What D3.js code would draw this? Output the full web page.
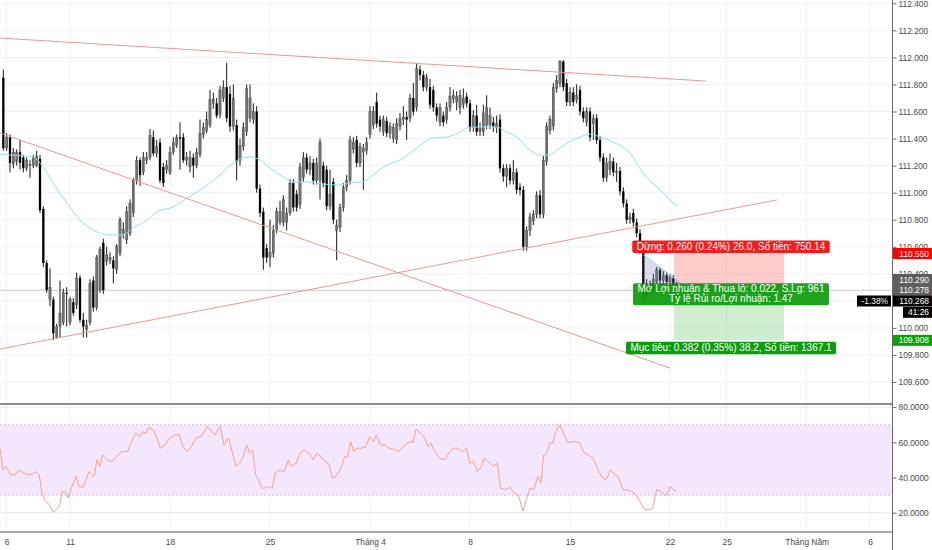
<!DOCTYPE html>
<html>
<head>
<meta charset="utf-8">
<script src="https://cdn.jsdelivr.net/npm/d3@7"></script>
<style>
body { margin: 0; background: #fff; }
svg { display: block; font-family: "Liberation Sans", Arial, sans-serif; }
</style>
</head>
<body>
<svg id="chart" width="932" height="550"></svg>
<script>
// 4h candles, bar 0 = Mon 11 March. first bar is -20
var firstBar = -20;
var ohlc = [
[111.85,111.91,111.31,111.33],[111.33,111.44,111.31,111.41],[111.41,111.43,111.15,111.22],[111.21,111.33,111.18,111.30],
[111.23,111.32,111.20,111.30],[111.30,111.39,111.17,111.22],[111.26,111.28,111.15,111.18],[111.18,111.26,111.16,111.24],
[111.20,111.24,111.11,111.21],[111.20,111.28,111.18,111.26],[111.20,111.31,111.19,111.27],[111.25,111.28,110.85,110.87],
[110.88,110.90,110.45,110.48],[110.48,110.50,110.26,110.28],[110.21,110.44,110.16,110.30],[110.21,110.23,109.91,109.96],
[109.93,110.03,109.92,110.01],[110.01,110.35,109.93,110.11],[110.04,110.29,110.02,110.26],[110.26,110.30,110.01,110.25],
[110.04,110.23,110.02,110.21],[110.19,110.22,110.09,110.11],[110.17,110.41,110.14,110.37],[110.37,110.39,110.04,110.06],
[110.06,110.11,109.93,110.01],[109.99,110.06,109.93,110.02],[110.04,110.36,110.02,110.33],[110.35,110.38,110.12,110.15],
[110.15,110.54,110.13,110.52],[110.28,110.60,110.26,110.58],[110.63,110.66,110.25,110.28],[110.49,110.60,110.46,110.54],
[110.50,110.56,110.47,110.52],[110.50,110.53,110.33,110.44],[110.43,110.62,110.40,110.60],[110.55,110.82,110.53,110.80],
[110.70,110.78,110.66,110.73],[110.65,110.90,110.62,110.86],[110.70,110.95,110.68,110.92],[110.85,111.11,110.82,111.09],
[111.09,111.27,111.06,111.24],[111.24,111.26,111.05,111.13],[111.15,111.30,111.13,111.26],[111.24,111.30,111.21,111.26],
[111.26,111.47,111.24,111.42],[111.41,111.46,111.27,111.29],[111.29,111.39,111.26,111.34],[111.37,111.40,111.07,111.09],
[111.19,111.22,111.04,111.07],[111.17,111.24,111.14,111.20],[111.15,111.34,111.13,111.30],[111.30,111.41,111.28,111.37],
[111.35,111.43,111.33,111.41],[111.41,111.52,111.17,111.40],[111.41,111.44,111.22,111.24],[111.24,111.30,111.20,111.26],
[111.19,111.31,111.15,111.26],[111.26,111.29,111.11,111.20],[111.20,111.33,111.18,111.30],[111.28,111.54,111.26,111.44],
[111.43,111.52,111.40,111.48],[111.46,111.60,111.44,111.54],[111.50,111.76,111.48,111.69],[111.66,111.74,111.62,111.69],
[111.66,111.70,111.55,111.57],[111.58,111.79,111.55,111.76],[111.70,111.83,111.67,111.78],[111.78,111.96,111.52,111.55],
[111.73,111.79,111.45,111.49],[111.49,111.80,111.46,111.70],[111.50,111.54,111.09,111.23],[111.24,111.40,111.20,111.35],
[111.34,111.52,111.31,111.48],[111.45,111.80,111.42,111.77],[111.55,111.80,111.52,111.70],[111.54,111.66,111.51,111.60],
[111.60,111.64,111.00,111.03],[111.03,111.06,110.82,110.85],[110.86,110.89,110.43,110.52],[110.59,110.62,110.48,110.52],
[110.52,110.80,110.45,110.56],[110.55,110.76,110.52,110.72],[110.72,110.89,110.70,110.86],[110.78,110.94,110.76,110.86],
[110.78,110.98,110.75,110.95],[110.78,110.89,110.72,110.85],[110.85,111.10,110.83,111.07],[111.07,111.10,110.86,110.89],
[110.99,111.02,110.86,110.89],[110.91,111.22,110.88,111.19],[111.11,111.30,111.08,111.26],[111.26,111.29,111.14,111.17],
[111.17,111.27,111.13,111.22],[111.22,111.25,111.06,111.09],[111.09,111.26,111.06,111.22],[111.09,111.40,110.95,111.37],
[111.20,111.23,111.04,111.07],[111.17,111.20,110.87,110.90],[110.90,111.17,110.87,110.99],[111.08,111.11,110.77,110.80],
[110.72,110.80,110.50,110.76],[110.74,110.92,110.71,110.89],[110.89,111.07,110.86,111.04],[111.04,111.13,111.01,111.09],
[111.09,111.42,111.06,111.39],[111.32,111.41,111.29,111.37],[111.39,111.42,111.19,111.22],[111.22,111.37,111.19,111.34],
[111.30,111.36,111.02,111.33],[111.31,111.41,111.28,111.37],[111.43,111.64,111.40,111.60],[111.50,111.64,111.47,111.60],
[111.67,111.74,111.48,111.51],[111.54,111.57,111.45,111.49],[111.45,111.57,111.42,111.54],[111.53,111.56,111.41,111.44],
[111.44,111.52,111.40,111.49],[111.40,111.51,111.37,111.48],[111.39,111.55,111.36,111.51],[111.49,111.59,111.46,111.55],
[111.54,111.64,111.50,111.56],[111.56,111.60,111.39,111.54],[111.55,111.73,111.52,111.70],[111.70,111.81,111.57,111.60],
[111.63,111.96,111.60,111.92],[111.91,111.94,111.83,111.87],[111.87,111.90,111.75,111.78],[111.78,111.88,111.75,111.85],
[111.78,111.84,111.62,111.65],[111.76,111.79,111.60,111.63],[111.63,111.66,111.53,111.57],[111.52,111.66,111.49,111.63],
[111.57,111.60,111.49,111.52],[111.54,111.67,111.51,111.63],[111.63,111.78,111.60,111.71],[111.69,111.76,111.66,111.72],
[111.67,111.75,111.61,111.71],[111.63,111.76,111.58,111.72],[111.65,111.77,111.62,111.70],[111.71,111.74,111.63,111.66],
[111.66,111.69,111.45,111.48],[111.48,111.61,111.45,111.57],[111.57,111.65,111.42,111.45],[111.45,111.52,111.42,111.48],
[111.45,111.65,111.42,111.59],[111.50,111.72,111.47,111.63],[111.50,111.63,111.47,111.57],[111.52,111.56,111.45,111.49],
[111.48,111.57,111.44,111.51],[111.54,111.58,111.15,111.18],[111.18,111.21,111.08,111.12],[111.12,111.21,111.04,111.18],
[111.18,111.21,111.06,111.09],[111.09,111.24,111.06,111.15],[111.15,111.18,110.99,111.02],[111.04,111.07,110.98,111.02],
[111.02,111.05,110.57,110.60],[110.60,110.75,110.57,110.72],[110.72,110.85,110.68,110.82],[110.79,110.87,110.76,110.84],
[110.84,111.01,110.81,110.98],[110.98,111.02,110.81,110.84],[110.84,111.27,110.81,111.24],[111.23,111.52,111.20,111.49],
[111.46,111.57,111.43,111.54],[111.49,111.81,111.46,111.78],[111.77,111.87,111.74,111.83],[111.81,111.98,111.78,111.97],
[111.97,111.98,111.75,111.78],[111.81,111.84,111.64,111.67],[111.67,111.78,111.64,111.74],[111.74,111.78,111.64,111.67],
[111.69,111.80,111.66,111.72],[111.76,111.79,111.57,111.60],[111.60,111.63,111.52,111.55],[111.52,111.63,111.49,111.60],
[111.60,111.63,111.38,111.41],[111.51,111.58,111.39,111.55],[111.55,111.58,111.36,111.39],[111.39,111.42,111.23,111.26],
[111.26,111.29,111.08,111.11],[111.11,111.26,111.08,111.22],[111.17,111.29,111.13,111.23],[111.23,111.26,111.12,111.15],
[111.15,111.22,111.08,111.16],[111.16,111.19,110.98,111.01],[111.01,111.04,110.89,110.92],[110.92,110.95,110.77,110.80],
[110.80,110.85,110.77,110.82],[110.85,110.88,110.75,110.78],[110.78,110.81,110.67,110.70],[110.70,110.73,110.55,110.58],
[110.56,110.58,110.19,110.30],[110.26,110.36,110.23,110.33],[110.33,110.35,110.26,110.29],[110.29,110.40,110.27,110.36],
[110.34,110.45,110.31,110.43],[110.43,110.45,110.32,110.35],[110.35,110.42,110.32,110.39],[110.39,110.41,110.31,110.34],
[110.34,110.40,110.30,110.37],[110.37,110.39,110.29,110.32],[110.32,110.34,110.26,110.29]
];

// moving average: [bar, price]
var maPoints = [
[-21,111.286],[-18,111.278],[-11.1,111.264],[-8.1,111.19],[-5.1,111.071],[-0.9,110.923],[3,110.798],[6.9,110.724],
[12,110.687],[15.9,110.687],[18.9,110.739],[23.1,110.798],[26.1,110.857],[30.9,110.894],[35.1,110.96],[39.9,111.034],
[45,111.13],[48.9,111.219],[54,111.264],[57,111.241],[60,111.182],[63.9,111.116],[66.9,111.079],[71.1,111.079],
[75.9,111.064],[81,111.057],[84,111.071],[87.9,111.079],[90.9,111.13],[95.1,111.204],[99,111.241],[104.1,111.33],
[108.9,111.404],[113.1,111.411],[117,111.448],[120,111.485],[123.9,111.485],[128.1,111.485],[131.1,111.448],
[134.1,111.411],[138,111.315],[141,111.278],[144,111.278],[146.1,111.315],[149.1,111.367],[153,111.411],[156,111.433],
[159,111.411],[162.9,111.374],[168,111.293],[171.9,111.145],[176.1,111.041],[179.1,110.968],[182.1,110.894]
];

// RSI: [bar, value]
var rsiPoints = [
[-21,56.6],[-20.1,44.3],[-19.2,46.2],[-17.8,41.5],[-16.5,41.5],[-15.3,44.3],[-13.9,42.5],[-12.4,41.5],[-11.2,42],
[-10.3,43.4],[-9.2,41.5],[-8.5,31.5],[-7.6,27.4],[-6.7,25.5],[-5.8,23.4],[-5,20.2],[-4.1,21.7],[-3.2,23.6],
[-2.3,32],[-1.4,32],[-0.5,28.3],[0.4,34],[1.8,40.6],[2.7,34.9],[4,34.5],[5.7,43.4],[7.2,40.6],[8.1,50],[9,46.2],
[9.8,52.8],[11.1,50],[12.9,49],[13.8,51.9],[15.6,54.7],[17.3,54.7],[18.2,59.4],[19.7,65.1],[20.9,63.2],[21.8,66],
[22.7,65.1],[23.6,68.5],[25,67],[26.3,61.3],[27.1,56.6],[28.6,58.5],[29.8,62.3],[31.6,64.2],[32.8,64.2],[33.9,57.5],
[35.2,54.7],[36.4,57.5],[37.8,62.3],[39.6,63.6],[41.1,68.9],[42.3,67],[43.5,64.2],[45,68.9],[46.2,58.5],[47.6,62.3],
[48.9,52.8],[49.8,46.2],[51.2,49],[52.1,52.8],[53,58.5],[53.9,53.8],[54.8,55.7],[55.7,41.5],[56.6,38.7],[57.5,34],
[58.3,34],[59.6,34.9],[60.7,34],[61.6,42.5],[62.8,44.3],[64.2,43.4],[65.5,50],[66.4,46.2],[67.8,48.1],[69,53.8],
[70.3,55.7],[71.7,53.8],[73,50],[74,53.8],[75.3,51.9],[76.5,49],[77.6,47.9],[78.8,39.6],[80.1,41.5],[81.5,46.2],
[82.4,51.9],[83.3,51.9],[84.2,60.4],[85.1,54.7],[86,56.6],[87.4,56.6],[88.7,57.5],[89.9,63.2],[91,60.4],[91.9,64.2],
[93.1,58.5],[94.5,58.5],[95.8,56.6],[97.2,56],[98.5,54.7],[99.9,57.5],[100.8,58.9],[102,60.4],[102.9,59.8],
[103.8,67.4],[105.2,65.1],[106.5,62.3],[107.4,57.5],[108.3,59.4],[109.5,54.7],[110.9,50.9],[112.4,50],[113.6,53.8],
[114.9,56.6],[116.3,56.6],[117.7,54.7],[119,56.6],[119.9,48.1],[121.1,49],[122.2,43.4],[123.4,46.2],[124.3,50.9],
[125.6,49],[127,46.2],[128.2,48.1],[129.1,34],[130.6,33],[132,34.5],[133.2,31.1],[134.5,30.2],[135.9,20.8],[137,28.3],
[138,34],[139.1,33],[140.4,40.6],[141.3,36.8],[142.1,52.8],[143,53.8],[143.9,59.4],[144.8,59.4],[145.7,66],[147,69.8],
[148,65.1],[149.3,59.8],[150.5,60.4],[152,60.4],[153,59.4],[154.3,53.8],[155.5,52.8],[157,50.9],[158.2,45.3],
[159.4,40.6],[160.9,38.7],[162.1,44.3],[163.5,41.5],[164.4,40.6],[165.9,33],[167.1,33],[168.4,32.1],[169.8,30.2],
[171.2,25.5],[172.5,21.7],[173.7,21.7],[174.8,22.6],[176,33],[177.3,32.1],[178.3,30.2],[179.1,30.2],[180.1,34.9],
[181,33],[181.9,32.1]
];

// drawn trend lines: [bar, price] -> [bar, price]
var trendLines = [
[[-21,112.143],[190.8,111.825]],
[[-21,111.441],[180,109.703]],
[[-21,109.844],[212.1,110.946]]
];

// short position tool
var posStartBar = 181.2, posEndBar = 214.2;
var entryPrice = 110.290, stopPrice = 110.550, targetPrice = 109.908, lastPrice = 110.278;
var pathTriangle = [[172,110.54],[172,110.19],[185.5,110.29]];
var stopText = ["Dừng: 0.260 (0.24%) 26.0, Số tiền: 750.14"];
var openText = ["Mở Lợi nhuận & Thua lỗ: 0.022, S.Lg: 961", "Tỷ lệ Rủi ro/Lợi nhuận: 1.47"];
var targetText = ["Mục tiêu: 0.382 (0.35%) 38.2, Số tiền: 1367.1"];

var priceTicks = [109.6,109.8,110.0,110.2,110.4,110.6,110.8,111.0,111.2,111.4,111.6,111.8,112.0,112.2,112.4];
var rsiTicks = [20,40,60,80];
var dateBars = [-19,0,30,60,90,120,150,180,197,221,240];
var dateLabels = ["6","11","18","25","Tháng 4","8","15","22","25","Tháng Năm","6"];

var W = 932, H = 550, plotW = 892;
var mainBottom = 403, rsiTop = 405, rsiBottom = 532;

var svg = d3.select('#chart');
var x = d3.scaleLinear().domain([-21, 246.6]).range([0, plotW]);
var y = d3.scaleLinear().domain([112.4, 109.6]).range([3.3, 382]);
var yR = d3.scaleLinear().domain([80, 20]).range([407.1, 512.7]);

var defs = svg.append('defs');
defs.append('clipPath').attr('id', 'clipMain').append('rect').attr('x', 0).attr('y', 0).attr('width', plotW).attr('height', mainBottom);
defs.append('clipPath').attr('id', 'clipRsi').append('rect').attr('x', 0).attr('y', rsiTop).attr('width', plotW).attr('height', rsiBottom - rsiTop);

// grid
var grid = svg.append('g').attr('stroke', '#eef1f7').attr('stroke-width', 1);
grid.selectAll('.hg').data(priceTicks).enter().append('line')
	.attr('x1', 0).attr('x2', plotW).attr('y1', function(d){ return y(d); }).attr('y2', function(d){ return y(d); });
grid.selectAll('.vg').data(dateBars).enter().append('line')
	.attr('x1', function(d){ return x(d); }).attr('x2', function(d){ return x(d); }).attr('y1', 0).attr('y2', mainBottom);
grid.selectAll('.vr').data(dateBars).enter().append('line')
	.attr('x1', function(d){ return x(d); }).attr('x2', function(d){ return x(d); }).attr('y1', rsiTop).attr('y2', rsiBottom);

// rsi band
var rsiG = svg.append('g').attr('clip-path', 'url(#clipRsi)');
rsiG.append('rect').attr('x', 0).attr('width', plotW).attr('y', yR(70)).attr('height', yR(30) - yR(70)).attr('fill', '#f3e6fd');
rsiG.selectAll('.rg').data(rsiTicks).enter().append('line')
	.attr('x1', 0).attr('x2', plotW).attr('y1', function(d){ return yR(d); }).attr('y2', function(d){ return yR(d); })
	.attr('stroke', '#ebe4f3');
rsiG.selectAll('.band').data([70, 30]).enter().append('line')
	.attr('x1', 0).attr('x2', plotW).attr('y1', function(d){ return yR(d); }).attr('y2', function(d){ return yR(d); })
	.attr('stroke', '#d2bfe3').attr('stroke-dasharray', '2,2');
rsiG.append('path').datum(rsiPoints)
	.attr('d', d3.line().x(function(d){ return x(d[0]); }).y(function(d){ return yR(d[1]); }))
	.attr('fill', 'none').attr('stroke', '#f6a287').attr('stroke-width', 1);

// main pane
var mainG = svg.append('g').attr('clip-path', 'url(#clipMain)');
mainG.append('line').attr('x1', 0).attr('x2', plotW).attr('y1', y(lastPrice)).attr('y2', y(lastPrice))
	.attr('stroke', '#d4d4d6').attr('stroke-width', 1.2);

var candles = mainG.selectAll('.candle').data(ohlc).enter().append('g');
candles.append('line')
	.attr('x1', function(d, i){ return x(firstBar + i); }).attr('x2', function(d, i){ return x(firstBar + i); })
	.attr('y1', function(d){ return y(d[1]); }).attr('y2', function(d){ return y(d[2]); })
	.attr('stroke', '#000').attr('stroke-width', 0.9);
candles.append('rect')
	.attr('x', function(d, i){ return x(firstBar + i) - 1.15; }).attr('width', 2.3)
	.attr('y', function(d){ return y(Math.max(d[0], d[3])); })
	.attr('height', function(d){ return Math.max(1, Math.abs(y(d[0]) - y(d[3]))); })
	.attr('fill', function(d){ return d[3] >= d[0] ? '#707070' : '#000'; })
	.attr('stroke', function(d){ return d[3] >= d[0] ? '#333' : 'none'; }).attr('stroke-width', 0.3);

mainG.append('path').datum(maPoints)
	.attr('d', d3.line().curve(d3.curveMonotoneX).x(function(d){ return x(d[0]); }).y(function(d){ return y(d[1]); }))
	.attr('fill', 'none').attr('stroke', '#8fe1ec').attr('stroke-width', 1);

mainG.selectAll('.trend').data(trendLines).enter().append('line')
	.attr('x1', function(d){ return x(d[0][0]); }).attr('y1', function(d){ return y(d[0][1]); })
	.attr('x2', function(d){ return x(d[1][0]); }).attr('y2', function(d){ return y(d[1][1]); })
	.attr('stroke', '#e39a96').attr('stroke-width', 1);

// position tool
mainG.append('rect').attr('x', x(posStartBar)).attr('width', x(posEndBar) - x(posStartBar))
	.attr('y', y(stopPrice)).attr('height', y(entryPrice) - y(stopPrice)).attr('fill', 'rgba(255,0,0,0.2)');
mainG.append('rect').attr('x', x(posStartBar)).attr('width', x(posEndBar) - x(posStartBar))
	.attr('y', y(entryPrice)).attr('height', y(targetPrice) - y(entryPrice)).attr('fill', 'rgba(0,160,0,0.19)');
mainG.append('path').datum(pathTriangle)
	.attr('d', function(d){ return 'M' + d.map(function(p){ return x(p[0]) + ',' + y(p[1]); }).join('L') + 'Z'; })
	.attr('fill', 'rgba(110,120,170,0.25)');
mainG.append('line').attr('x1', x(pathTriangle[0][0])).attr('y1', y(pathTriangle[0][1]))
	.attr('x2', x(pathTriangle[2][0])).attr('y2', y(pathTriangle[2][1]))
	.attr('stroke', '#7fdde9').attr('stroke-width', 1);

function tag(lines, cx, yTop, fill){
	var g = svg.append('g');
	var lh = 9.5;
	var texts = lines.map(function(t, k){
		return g.append('text').attr('x', cx).attr('y', yTop + 9.3 + k * lh)
			.attr('text-anchor', 'middle').attr('fill', '#fff').style('font-size', '10px').text(t);
	});
	var w = d3.max(texts, function(t){ return t.node().getComputedTextLength(); }) + 9;
	g.insert('rect', 'text').attr('x', cx - w / 2).attr('y', yTop).attr('width', w)
		.attr('height', lines.length * lh + 3).attr('rx', 2).attr('fill', fill);
}
var midX = (x(posStartBar) + x(posEndBar)) / 2 + 2;
tag(stopText, midX, y(stopPrice) - 13, '#f41c1c');
tag(openText, midX, y(entryPrice) - 5.5, 'rgba(0,150,0,0.88)');
tag(targetText, midX, y(targetPrice) + 1.5, '#0b9e0b');

// pane frame lines
svg.append('line').attr('x1', 0).attr('x2', plotW).attr('y1', 404).attr('y2', 404).attr('stroke', '#8c8c8c').attr('stroke-width', 2);
svg.append('line').attr('x1', 0).attr('x2', plotW).attr('y1', rsiBottom).attr('y2', rsiBottom).attr('stroke', '#8c8c8c').attr('stroke-width', 1.3);
svg.append('line').attr('x1', plotW + 0.5).attr('x2', plotW + 0.5).attr('y1', 0).attr('y2', H).attr('stroke', '#6b6b6b').attr('stroke-width', 1);

// axes
var pAxis = svg.append('g').attr('transform', 'translate(' + (plotW + 0.5) + ',0)')
	.call(d3.axisRight(y).tickValues(priceTicks).tickFormat(d3.format('.3f')).tickSize(4).tickPadding(2));
var rAxis = svg.append('g').attr('transform', 'translate(' + (plotW + 0.5) + ',0)')
	.call(d3.axisRight(yR).tickValues(rsiTicks).tickFormat(d3.format('.4f')).tickSize(4).tickPadding(2));
var xAxis = svg.append('g').attr('transform', 'translate(0,' + rsiBottom + ')')
	.call(d3.axisBottom(x).tickValues(dateBars).tickFormat(function(d, i){ return dateLabels[i]; }).tickSize(0).tickPadding(7));
[pAxis, rAxis, xAxis].forEach(function(a){
	a.select('.domain').remove();
	a.selectAll('line').attr('stroke', '#6b6b6b');
	a.selectAll('text').attr('fill', '#4a4a4a').style('font-size', '8.4px').style('font-family', '"Liberation Sans", Arial, sans-serif');
});

// right axis price boxes
function axisBox(txt, cy, fill, x0, x1){
	svg.append('rect').attr('x', x0).attr('y', cy - 5.5).attr('width', x1 - x0).attr('height', 11).attr('fill', fill);
	svg.append('text').attr('x', x1 - 3).attr('y', cy + 3).attr('text-anchor', 'end')
		.attr('fill', '#fff').style('font-size', '8.4px').text(txt);
}
var lastY = y(lastPrice);
axisBox(d3.format('.3f')(stopPrice), y(stopPrice), '#ff0000', plotW + 1, W);
axisBox(d3.format('.3f')(entryPrice), lastY - 10.8, '#5e5e5e', plotW + 1, W);
axisBox(d3.format('.3f')(lastPrice), lastY, '#5e5e5e', plotW + 1, W);
axisBox('110.268', lastY + 10.7, '#000', plotW + 1, W);
axisBox('-1.38%', lastY + 10.7, '#000', 857, plotW - 1);
axisBox('41:26', lastY + 22, '#000', 903, W);
axisBox(d3.format('.3f')(targetPrice), y(targetPrice), '#09a009', plotW + 1, W);
</script>
</body>
</html>
